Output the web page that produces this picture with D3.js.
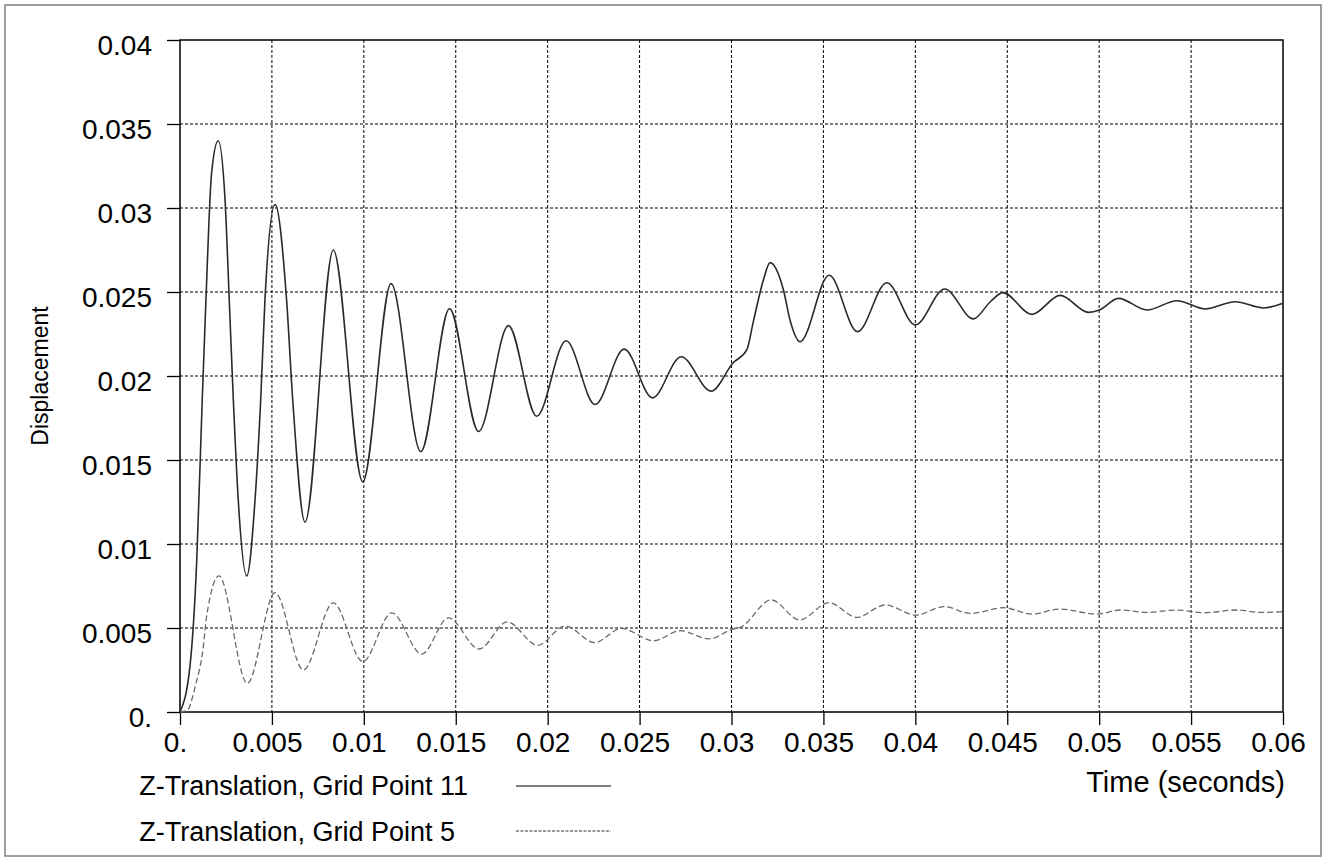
<!DOCTYPE html>
<html><head><meta charset="utf-8">
<script src="https://cdn.jsdelivr.net/npm/d3@7"></script>
<style>body{margin:0;background:#fff}svg{display:block}text{font-family:"Liberation Sans",Arial,sans-serif;fill:#000}</style>
</head><body><svg id="c" width="1328" height="861"></svg>
<script>
const xTicks=[0,0.005,0.01,0.015,0.02,0.025,0.03,0.035,0.04,0.045,0.05,0.055,0.06];
const xTickLabels=["0.","0.005","0.01","0.015","0.02","0.025","0.03","0.035","0.04","0.045","0.05","0.055","0.06"];
const yTicks=[0,0.005,0.01,0.015,0.02,0.025,0.03,0.035,0.04];
const yTickLabels=["0.","0.005","0.01","0.015","0.02","0.025","0.03","0.035","0.04"];
const seriesNames=["Z-Translation, Grid Point 11","Z-Translation, Grid Point 5"];
const xTitle="Time (seconds)", yTitle="Displacement";
const gp11T=[0,0.00054,0.00091,0.00121,0.00141,0.00172,0.00208,0.00245,0.00268,0.0029,0.00317,0.00363,0.00408,0.00439,0.00462,0.00517,0.0058,0.00613,0.0068,0.00834,0.00994,0.01148,0.0131,0.01466,0.01624,0.01787,0.0194,0.0210,0.02258,0.02416,0.0257,0.02726,0.02889,0.0301,0.03083,0.0312,0.03173,0.0321,0.03283,0.03319,0.03373,0.03531,0.03685,0.03845,0.0400,0.0416,0.04316,0.04408,0.04477,0.04634,0.04788,0.04942,0.05002,0.05105,0.0526,0.05423,0.05577,0.0574,0.05894,0.06];
const gp11V=[0,0.0027,0.0090,0.0186,0.0245,0.0321,0.0340,0.0305,0.0245,0.0186,0.0126,0.0081,0.0126,0.0186,0.0245,0.0302,0.0245,0.0186,0.0113,0.0275,0.0137,0.0255,0.0155,0.0240,0.0167,0.0230,0.0176,0.0221,0.0183,0.0216,0.0187,0.02115,0.0191,0.0208,0.02155,0.0233,0.0257,0.02675,0.0251,0.0233,0.02204,0.0260,0.02264,0.02555,0.02304,0.02518,0.0234,0.02442,0.02496,0.02367,0.0248,0.02379,0.02393,0.02462,0.02393,0.02448,0.02399,0.02442,0.02405,0.02433];
const gp5T=[0,0.0004,0.00082,0.00127,0.00145,0.00212,0.00366,0.00517,0.00671,0.00834,0.00994,0.01152,0.01315,0.0146,0.01627,0.0178,0.01946,0.02095,0.02256,0.02401,0.02576,0.02722,0.02877,0.03003,0.03051,0.03216,0.03371,0.0353,0.03681,0.03836,0.04001,0.04156,0.04301,0.0448,0.04634,0.04784,0.04988,0.05115,0.0526,0.05423,0.05568,0.0575,0.05876,0.06];
const gp5V=[0,0.0001,0.0015,0.0039,0.0057,0.0081,0.0017,0.0071,0.0025,0.0065,0.0030,0.0059,0.00345,0.0056,0.00375,0.00536,0.00397,0.00512,0.00413,0.00498,0.00424,0.00484,0.00435,0.00492,0.00506,0.00667,0.00548,0.00651,0.00563,0.00637,0.00577,0.00627,0.00587,0.00621,0.00583,0.00613,0.00583,0.00607,0.00593,0.00607,0.00591,0.00607,0.00593,0.00597];

const svg=d3.select("#c");
const L=180,R=1283,T=40,B=712;
const x=d3.scaleLinear().domain([0,0.06]).range([L,R]);
const y=d3.scaleLinear().domain([0,0.04]).range([B,T]);

svg.append("rect").attr("x",5).attr("y",5).attr("width",1316).attr("height",851).attr("fill","none").attr("stroke","#808080").attr("stroke-width",1.5);

// grid
const g=svg.append("g");
g.selectAll(".vg").data(xTicks.slice(1,-1)).join("line").attr("x1",d=>x(d)).attr("x2",d=>x(d)).attr("y1",T).attr("y2",B).attr("stroke","#000").attr("stroke-width",1).attr("stroke-dasharray","3,2");
g.selectAll(".hg").data(yTicks.slice(1,-1)).join("line").attr("y1",d=>y(d)).attr("y2",d=>y(d)).attr("x1",L).attr("x2",R).attr("stroke","#000").attr("stroke-width",1).attr("stroke-dasharray","3,2");

// axes
const xa=svg.append("g").attr("transform",`translate(0,${B})`).call(d3.axisBottom(x).tickValues(xTicks).tickSize(13).tickFormat((d,i)=>xTickLabels[i]));
const ya=svg.append("g").attr("transform",`translate(${L},0)`).call(d3.axisLeft(y).tickValues(yTicks).tickSize(13).tickFormat((d,i)=>yTickLabels[i]));
[xa,ya].forEach(a=>{a.select(".domain").remove();a.selectAll("line").attr("stroke","#000").attr("stroke-width",1.3);a.selectAll("text").attr("font-size",28).attr("font-family","Liberation Sans, Arial, sans-serif").attr("fill","#000");});
xa.selectAll("text").attr("dy","0.75em").attr("y",19).attr("dx",-5);
ya.selectAll("text").attr("x",-28).attr("dy","0.5em");
svg.append("rect").attr("x",L).attr("y",T).attr("width",R-L).attr("height",B-T).attr("fill","none").attr("stroke","#000").attr("stroke-width",1.5);

// lines
const line=d3.line().x(d=>x(d[0])).y(d=>y(d[1])).curve(d3.curveMonotoneX);
svg.append("path").datum(gp5T.map((t,i)=>[t,gp5V[i]])).attr("d",line).attr("fill","none").attr("stroke","#6a6a6a").attr("stroke-width",1.3).attr("stroke-dasharray","6,3");
svg.append("path").datum(gp11T.map((t,i)=>[t,gp11V[i]])).attr("d",line).attr("fill","none").attr("stroke","#2a2a2a").attr("stroke-width",1.6);

// titles
svg.append("text").attr("x",R+2).attr("y",792).attr("text-anchor","end").attr("font-size",29).text(xTitle);
svg.append("text").attr("transform","translate(48,376) rotate(-90)").attr("text-anchor","middle").attr("font-size",23).text(yTitle);

// legend
const leg=svg.append("g");
const t1=leg.append("text").attr("y",795).attr("font-size",27).text(seriesNames[0]);
const t2=leg.append("text").attr("y",841).attr("font-size",27).text(seriesNames[1]);
const lx=468-t1.node().getComputedTextLength();
t1.attr("x",lx); t2.attr("x",lx);
leg.append("line").attr("x1",516).attr("x2",611).attr("y1",786).attr("y2",786).attr("stroke","#000").attr("stroke-width",1.2);
leg.append("line").attr("x1",516).attr("x2",611).attr("y1",831).attr("y2",831).attr("stroke","#333").attr("stroke-width",1).attr("stroke-dasharray","3,1.5");
</script></body></html>
